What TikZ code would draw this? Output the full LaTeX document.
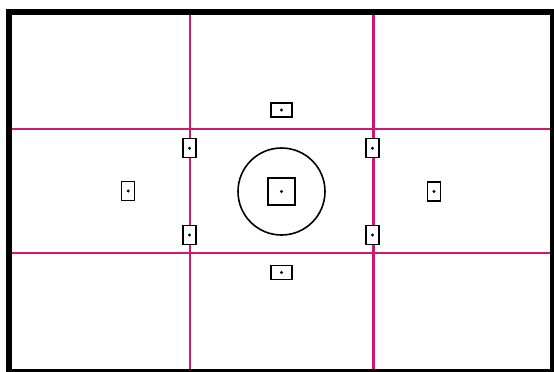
\documentclass[tikz,border=0pt]{standalone}
\usepackage{tikz}
\definecolor{grid}{RGB}{208,24,112}
\tikzset{
  af/.style={draw=black, line width=1.3pt, rectangle, inner sep=0pt, fill=white},
  afv/.style={af, minimum width=13pt, minimum height=19pt},
  afh/.style={af, minimum width=21pt, minimum height=14pt},
  afc/.style={af, minimum width=27pt, minimum height=27pt},
  dotc/.style={fill=black, circle, inner sep=0pt, minimum size=3.2pt},
  gridline/.style={draw=grid, line width=2.2pt}
}
\begin{document}
\begin{tikzpicture}[x=1pt,y=-1pt]
\useasboundingbox (0,0) rectangle (554,372);
\fill[white] (0,0) rectangle (554,372);
% frame
\fill[black] (6,9) rectangle (554,372);
\fill[white] (12,15) rectangle (550,369);
% grid lines
\coordinate (v1t) at (190,15); \coordinate (v1b) at (190,369);
\coordinate (v2t) at (373.5,15); \coordinate (v2b) at (373.5,369);
\coordinate (h1l) at (12,129); \coordinate (h1r) at (550,129);
\coordinate (h2l) at (12,253); \coordinate (h2r) at (550,253);
\draw[gridline] (v1t) -- (v1b);
\draw[gridline] (v2t) -- (v2b);
\draw[gridline] (h1l) -- (h1r);
\draw[gridline] (h2l) -- (h2r);
% circle
\node[draw=black, line width=1.6pt, circle, minimum size=87pt, inner sep=0pt] (ring) at (281.5,191.5) {};
% AF points
\node[afc] (c) at (281.5,191.5) {};
\node[afh] (t) at (281.5,110) {};
\node[afh] (b) at (281.5,272.5) {};
\node[afv] (lt) at (189.5,148.3) {};
\node[afv] (lb) at (189.5,235) {};
\node[afv] (rt) at (372.5,148.3) {};
\node[afv] (rb) at (372.5,235) {};
\node[afv] (l) at (128.3,191) {};
\node[afv] (r) at (434,191.5) {};
\foreach \n in {c,t,b,lt,lb,rt,rb,l,r}{
  \node[dotc] (d\n) at (\n.center) {};
}
\end{tikzpicture}
\end{document}
